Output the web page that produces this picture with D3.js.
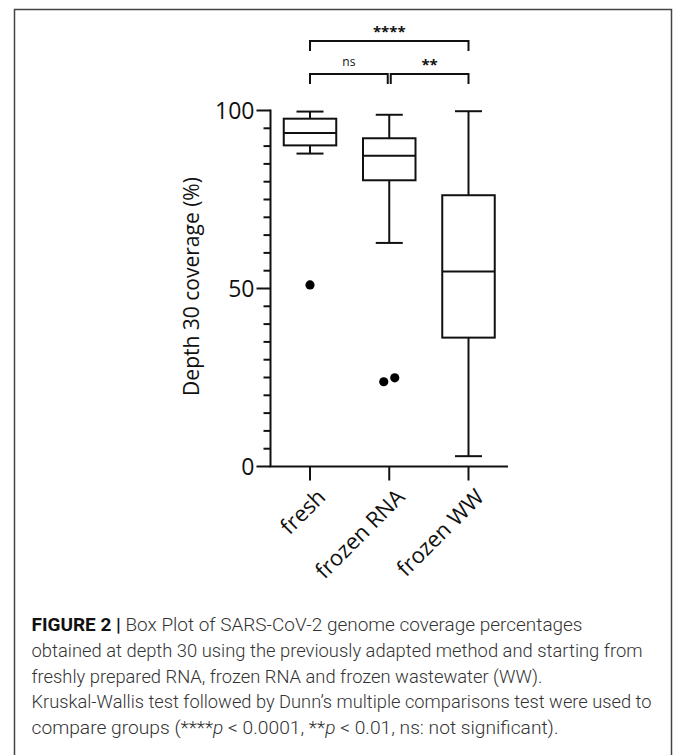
<!DOCTYPE html>
<html>
<head>
<meta charset="utf-8">
<script src="https://cdn.jsdelivr.net/npm/d3@7"></script>
<style>
  body { margin: 0; background: #fff; }
  svg { display: block; }
</style>
</head>
<body>
<svg id="chart" width="673" height="755"></svg>
<script>
// data
const categories = ["fresh", "frozen RNA", "frozen WW"];
const whiskerLow = [87.9, 62.8, 2.9];
const q1 = [90.2, 80.4, 36.2];
const median = [93.7, 87.3, 54.8];
const q3 = [97.7, 92.2, 76.2];
const whiskerHigh = [99.7, 98.8, 99.8];
const outliers = [[51.0], [23.8, 24.9], []];

const majorTicks = [0, 50, 100];
const minorTicks = d3.range(0, 101, 5);

// significance brackets: [from, to, label, level]
const comparisons = [
  ["fresh", "frozen WW", "****", 0],
  ["fresh", "frozen RNA", "ns", 1],
  ["frozen RNA", "frozen WW", "**", 1]
];

const captionLines = [
  [["FIGURE 2 | ", "bold"], ["Box Plot of SARS-CoV-2 genome coverage percentages", ""]],
  [["obtained at depth 30 using the previously adapted method and starting from", ""]],
  [["freshly prepared RNA, frozen RNA and frozen wastewater (WW).", ""]],
  [["Kruskal-Wallis test followed by Dunn\u2019s multiple comparisons test were used to", ""]],
  [["compare groups (****", ""], ["p", "italic"], [" < 0.0001, **", ""], ["p", "italic"], [" < 0.01, ns: not significant).", ""]]
];
const captionWidths = [551, 611, 511, 620, 527];

const svg = d3.select("#chart");
const font = "'Open Sans', 'DejaVu Sans', sans-serif";

// frame
svg.append("rect")
  .attr("x", 14.5).attr("y", 9.5)
  .attr("width", 657).attr("height", 780)
  .attr("fill", "none").attr("stroke", "#444").attr("stroke-width", 1.5);

const x = d3.scalePoint().domain(categories).range([310, 468.5]);
const y = d3.scaleLinear().domain([0, 100]).range([466.5, 110.5]);

const axisLeft = 270.5, axisRight = 508;
const g = svg.append("g").attr("stroke", "#111").attr("stroke-width", 2);

// y axis
g.append("line")
  .attr("x1", axisLeft).attr("x2", axisLeft)
  .attr("y1", y(100) - 1).attr("y2", y(0));
g.selectAll(".minor").data(minorTicks).join("line")
  .attr("x1", d => majorTicks.includes(d) ? axisLeft - 14 : axisLeft - 7)
  .attr("x2", axisLeft)
  .attr("y1", d => y(d)).attr("y2", d => y(d));

svg.selectAll(".ytl").data(majorTicks).join("text")
  .attr("x", axisLeft - 16).attr("y", d => y(d))
  .attr("dy", "0.36em")
  .attr("text-anchor", "end")
  .attr("font-family", font).attr("font-size", 23)
  .attr("fill", "#111")
  .text(d => d);

svg.append("text")
  .attr("transform", `translate(191,${y(50) - 2}) rotate(-90)`)
  .attr("dy", "0.36em")
  .attr("text-anchor", "middle")
  .attr("font-family", font).attr("font-size", 21)
  .attr("fill", "#111")
  .text("Depth 30 coverage (%)");

// x axis
g.append("line")
  .attr("x1", axisLeft - 1).attr("x2", axisRight)
  .attr("y1", y(0)).attr("y2", y(0));
g.selectAll(".xt").data(categories).join("line")
  .attr("x1", d => x(d)).attr("x2", d => x(d))
  .attr("y1", y(0)).attr("y2", y(0) + 14);

svg.selectAll(".xtl").data(categories).join("text")
  .attr("transform", d => `translate(${x(d) + 6},${y(0) + 21}) rotate(-45)`)
  .attr("dy", "0.7em")
  .attr("text-anchor", "end")
  .attr("font-family", font).attr("font-size", 22)
  .attr("fill", "#111")
  .text(d => d);

// boxes
const boxW = 52.5, capW = 27;
const boxes = categories.map((c, i) => ({
  c, lo: whiskerLow[i], q1: q1[i], med: median[i], q3: q3[i], hi: whiskerHigh[i], out: outliers[i]
}));

const bg = g.selectAll(".box").data(boxes).join("g");
bg.append("line")
  .attr("x1", d => x(d.c)).attr("x2", d => x(d.c))
  .attr("y1", d => y(d.hi)).attr("y2", d => y(d.q3));
bg.append("line")
  .attr("x1", d => x(d.c)).attr("x2", d => x(d.c))
  .attr("y1", d => y(d.q1)).attr("y2", d => y(d.lo));
bg.append("line")
  .attr("x1", d => x(d.c) - capW / 2).attr("x2", d => x(d.c) + capW / 2)
  .attr("y1", d => y(d.hi)).attr("y2", d => y(d.hi));
bg.append("line")
  .attr("x1", d => x(d.c) - capW / 2).attr("x2", d => x(d.c) + capW / 2)
  .attr("y1", d => y(d.lo)).attr("y2", d => y(d.lo));
bg.append("rect")
  .attr("x", d => x(d.c) - boxW / 2).attr("width", boxW)
  .attr("y", d => y(d.q3)).attr("height", d => y(d.q1) - y(d.q3))
  .attr("fill", "none");
bg.append("line")
  .attr("x1", d => x(d.c) - boxW / 2).attr("x2", d => x(d.c) + boxW / 2)
  .attr("y1", d => y(d.med)).attr("y2", d => y(d.med));

// outliers, spread sideways when there are several
bg.selectAll("circle").data(d => d.out.map((v, i) => ({ c: d.c, v, i, n: d.out.length })))
  .join("circle")
  .attr("cx", d => x(d.c) + (d.i - (d.n - 1) / 2) * 11)
  .attr("cy", d => y(d.v))
  .attr("r", 4.6)
  .attr("fill", "#000").attr("stroke", "none");

// significance brackets
const levelY = [41, 74];
const legLen = 10;
const gap = 1.5;
comparisons.forEach(([a, b, label, lvl]) => {
  let x1 = x(a), x2 = x(b);
  if (lvl === 1) {
    if (a === "frozen RNA") x1 += gap;
    if (b === "frozen RNA") x2 -= gap;
  }
  const yy = levelY[lvl];
  g.append("path")
    .attr("fill", "none")
    .attr("d", `M${x1},${yy + legLen}V${yy}H${x2}V${yy + legLen}`);
  svg.append("text")
    .attr("x", (x1 + x2) / 2)
    .attr("y", yy - (label === "ns" ? 8 : 4))
    .attr("text-anchor", "middle")
    .attr("font-family", font)
    .attr("font-size", label === "ns" ? 12 : 15)
    .attr("font-weight", label === "ns" ? 400 : 700)
    .attr("fill", "#111")
    .text(label);
});

// caption
const cap = svg.append("g")
  .attr("font-family", "Roboto, 'Liberation Sans', sans-serif")
  .attr("font-size", 17.5)
  .attr("fill", "#333");
captionLines.forEach((parts, i) => {
  const t = cap.append("text")
    .attr("x", 31.5)
    .attr("y", 631 + i * 25.8)
    .attr("textLength", captionWidths[i])
    .attr("lengthAdjust", "spacingAndGlyphs");
  parts.forEach(([s, style]) => {
    const ts = t.append("tspan").text(s);
    if (style === "bold") ts.attr("font-weight", 700).attr("fill", "#111");
    else ts.attr("font-weight", 300);
    if (style === "italic") ts.attr("font-style", "italic");
  });
});
</script>
</body>
</html>
